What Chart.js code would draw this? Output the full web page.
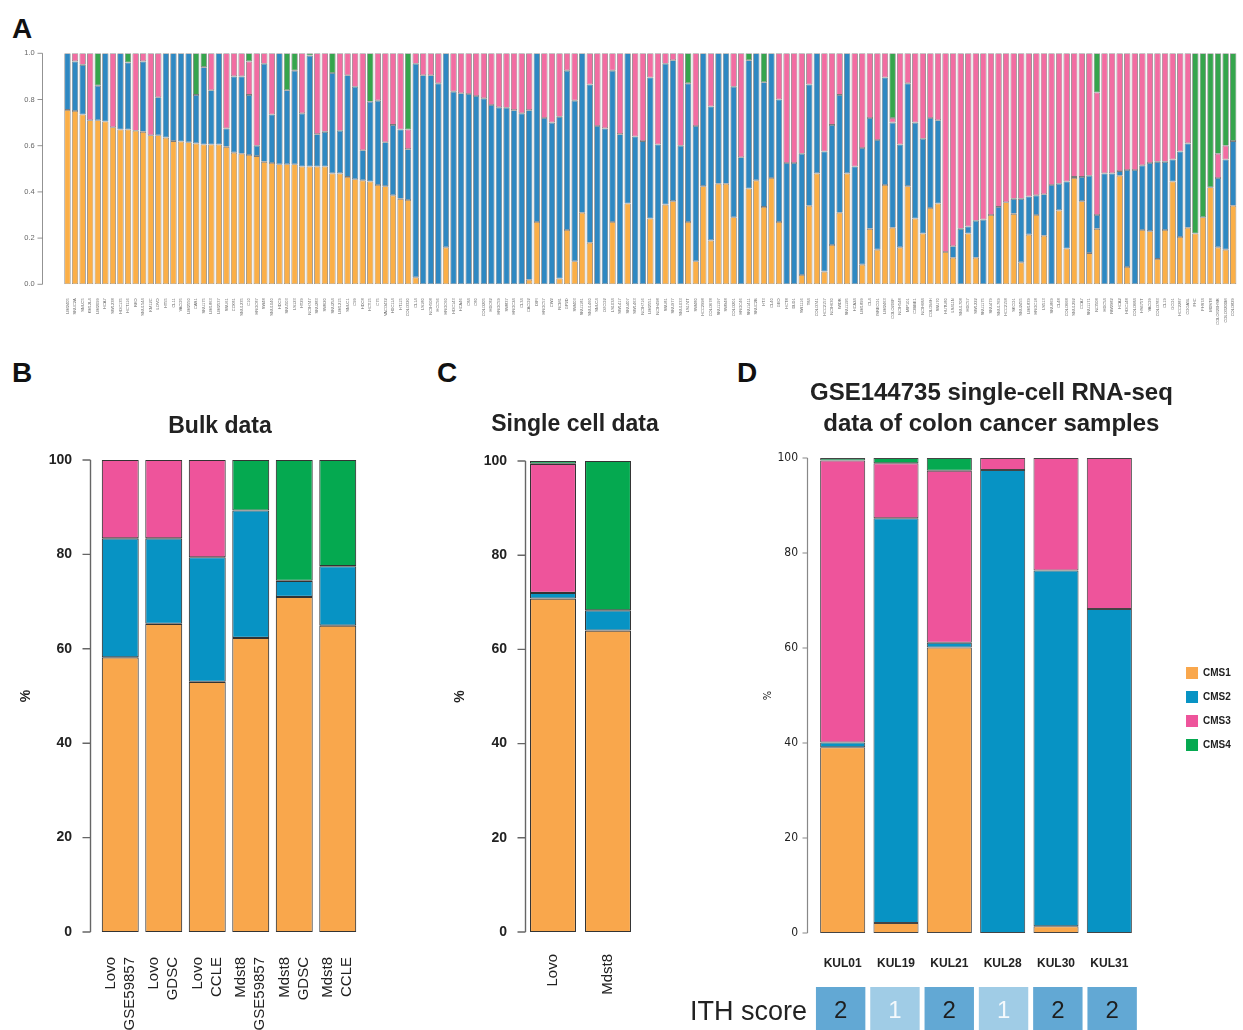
<!DOCTYPE html>
<html>
<head>
<meta charset="utf-8">
<title>CMS classification</title>
<script src="https://cdn.jsdelivr.net/npm/chart.js"></script>
<style>
  html, body { margin: 0; padding: 0; background: #fff; }
  body { width: 1243px; height: 1030px; overflow: hidden; position: relative; font-family: 'Liberation Sans', Arial, sans-serif; }
  .panel { position: absolute; }
  .letter { position: absolute; font-weight: bold; font-size: 28px; line-height: 1; color: #111; }
  .ith { position: absolute; left: 690px; top: 998px; font-size: 27px; line-height: 1; color: #222; }
</style>
</head>
<body>
<div class="letter" style="left:12px; top:15px;">A</div>
<div class="letter" style="left:12px; top:359px;">B</div>
<div class="letter" style="left:437px; top:359px;">C</div>
<div class="letter" style="left:737px; top:359px;">D</div>

<div class="panel" style="left:0; top:40px; width:1252px; height:285px;"><canvas id="chartA"></canvas></div>
<div class="panel" style="left:0; top:355px; width:440px; height:680px;"><canvas id="chartB"></canvas></div>
<div class="panel" style="left:430px; top:355px; width:290px; height:680px;"><canvas id="chartC"></canvas></div>
<div class="panel" style="left:742px; top:355px; width:501px; height:708px;"><canvas id="chartD"></canvas></div>
<div class="panel" style="left:680px; top:985px; width:470px; height:60px;"><canvas id="chartITH"></canvas></div>
<div class="ith">ITH score</div>

<script>
// Panel A: CMS proportions per colorectal cancer cell line
const cellLines = [
  'LIM2405', 'SNUC2A', 'SNUC5', 'KM12L4', 'LIM2099', 'HCA7', 'SW1238', 'HDC135', 'HCT116', 'RKO',
  'SNU1544', 'KM12C', 'LOVO', 'HT55', 'CL11', 'VACO5', 'LIM2550', 'CAR1', 'SNU175', 'LIM1863',
  'LIM2537', 'SNU61', 'CCK81', 'SNU1235', 'C10', 'HROC87', 'SW48', 'SNU1040', 'HDC9', 'SNU503',
  'LS123', 'HT29', 'NCIH747', 'SNU283', 'SW620', 'SNU254', 'LIM1215', 'SNUC1', 'C99', 'HDC8',
  'HCT15', 'C75', 'VACO432', 'HDC114', 'HT115', 'COLO320', 'CL14', 'LS180', 'NCIH508', 'HCC56',
  'HROC60', 'HDC143', 'HCA46', 'C84', 'C80', 'COLO205', 'HDC82', 'HROC59', 'SW837', 'HROC24',
  'CL34', 'CACO2', 'DIFI', 'HROC57', 'CW2', 'RCM1', 'GP2D', 'SW403', 'SNU1181', 'SNU1460',
  'SNUC4', 'OXCO2', 'LS1034', 'SW1417', 'SNU407', 'SW1463', 'NCIH716', 'LIM2551', 'NCIH498', 'SNU81',
  'SNU977', 'SNU1033', 'LS174T', 'SW480', 'HCC2998', 'COLO678', 'SNU1197', 'SW948', 'COLO201', 'HROC46',
  'SNU1411', 'SNUC2B', 'HT3', 'CL40', 'GEO', 'HCT8', 'DLD1', 'SW1116', 'T84', 'COLO741',
  'HCC2157', 'NCIH630', 'WIDR', 'SNU1195', 'HCA24', 'LIM1899', 'CL4', 'ISRECO1', 'LIM2463', 'COLO206F',
  'NCIH548', 'MIP101', 'C2BBE1', 'NCIH684', 'COLO94H', 'SNU70', 'HUTU80', 'LS411N', 'SNU1708', 'HDC57',
  'SW1222', 'SNU1175', 'SNU479', 'SNU1769', 'HCC2158', 'SKCO1', 'SNU2455', 'LIM1839', 'HROC18', 'LS513',
  'SNU869', 'CL48', 'COLO668', 'SNU1292', 'CCA7', 'SNU1171', 'NCI508', 'HDC54', 'RW2982', 'HCA2',
  'HDC148', 'COLO684', 'HS675T', 'VACO9', 'COLO783', 'CL19', 'GCO1', 'HCC2287', 'COGA5L', 'FHC',
  'FHS74', 'MDST8', 'COLO320HSR', 'COLO320DM', 'COLO829'
];

const cms1A = [
  .755, .75, .735, .71, .71, .705, .68, .67, .67, .665,
  .66, .645, .645, .635, .62, .618, .615, .61, .605, .605,
  .605, .595, .57, .565, .56, .555, .53, .525, .52, .52,
  .52, .51, .51, .51, .51, .48, .48, .465, .455, .45,
  .445, .43, .425, .385, .37, .365, .03, 0, 0, 0,
  .16, 0, 0, 0, 0, 0, 0, 0, 0, 0,
  0, .02, .27, 0, 0, .025, .235, .10, .31, .18,
  0, 0, .27, 0, .35, 0, 0, .285, 0, .345,
  .36, 0, .27, .10, .425, .19, .435, .435, .29, 0,
  .415, .45, .335, .46, .27, 0, 0, .04, .34, .48,
  .055, .17, .31, .48, 0, .085, .24, .15, .43, .245,
  .16, .425, .285, .22, .33, .35, .14, .115, 0, .22,
  .115, 0, .30, 0, .355, .305, .095, .215, .30, .21,
  0, .32, .155, .46, .36, .135, .24, 0, 0, .47,
  .075, 0, .235, .23, .11, .235, .445, .205, .245, .22,
  .29, .42, .16, .15, .34
];
const cms2A = [
  .245, .215, .215, 0, .15, .295, 0, .33, .29, 0,
  .305, 0, .165, .365, .38, .382, .385, .21, .335, .235,
  .395, .08, .33, .335, .26, .045, .425, .21, .48, .32,
  .405, .23, .48, .14, .15, .435, .185, .44, .40, .13,
  .345, .365, .19, .305, .30, .22, .925, .905, .905, .87,
  .84, .834, .827, .824, .815, .805, .776, .766, .764, .754,
  .74, .734, .73, .72, .70, .70, .69, .695, .69, .685,
  .685, .675, .655, .65, .65, .64, .62, .61, .605, .61,
  .61, .60, .60, .585, .575, .58, .565, .565, .565, .55,
  .555, .55, .54, .54, .53, .525, .525, .525, .525, .52,
  .52, .52, .51, .52, .51, .505, .48, .475, .465, .455,
  .445, .445, .415, .41, .39, .36, 0, .05, .24, .03,
  .16, .28, 0, .335, 0, .065, .275, .165, .085, .18,
  .43, .115, .29, .005, .105, .335, .06, .48, .48, .02,
  .42, .495, .28, .295, .42, .295, .095, .37, .365, 0,
  0, 0, .30, .39, .28
];
const cms3A = [
  0, .035, .05, .29, 0, 0, .32, 0, 0, .335,
  .035, .355, .19, 0, 0, 0, 0, 0, 0, .16,
  0, .325, .10, .10, .145, .40, .045, .265, 0, 0,
  0, .26, 0, .35, .34, 0, .335, .095, .145, .42,
  0, .205, .385, .31, .33, .085, .045, .095, .095, .13,
  0, .166, .173, .176, .185, .195, .224, .234, .236, .246,
  .26, .246, 0, .28, .30, .275, .075, .205, 0, .135,
  .315, .325, .075, .35, 0, .36, .38, .105, .395, .045,
  .03, .40, 0, .315, 0, .23, 0, 0, .145, .45,
  0, 0, 0, 0, .20, .475, .475, .435, .135, 0,
  .425, .31, .18, 0, .49, .41, .28, .375, .105, .02,
  .395, .13, .30, .37, .28, .29, .86, .835, .76, .75,
  .725, .72, .70, .665, .645, .63, .63, .62, .615, .61,
  .57, .565, .555, .535, .535, .53, .53, .52, .52, .51,
  .505, .505, .485, .475, .47, .47, .46, .425, .39, 0,
  0, 0, .105, .06, 0
];
const cms4A = [
  0, 0, 0, 0, .14, 0, 0, 0, .04, 0,
  0, 0, 0, 0, 0, 0, 0, .18, .06, 0,
  0, 0, 0, 0, .035, 0, 0, 0, 0, .16,
  .075, 0, .01, 0, 0, .085, 0, 0, 0, 0,
  .21, 0, 0, 0, 0, .33, 0, 0, 0, 0,
  0, 0, 0, 0, 0, 0, 0, 0, 0, 0,
  0, 0, 0, 0, 0, 0, 0, 0, 0, 0,
  0, 0, 0, 0, 0, 0, 0, 0, 0, 0,
  0, 0, .13, 0, 0, 0, 0, 0, 0, 0,
  .03, 0, .125, 0, 0, 0, 0, 0, 0, 0,
  0, 0, 0, 0, 0, 0, 0, 0, 0, .28,
  0, 0, 0, 0, 0, 0, 0, 0, 0, 0,
  0, 0, 0, 0, 0, 0, 0, 0, 0, 0,
  0, 0, 0, 0, 0, 0, .17, 0, 0, 0,
  0, 0, 0, 0, 0, 0, 0, 0, 0, .78,
  .71, .58, .435, .40, .38
];
const ticksA = [0, 0.2, 0.4, 0.6, 0.8, 1.0];

// Panel B: bulk expression data (%)
const bulkLabels = [['Lovo', 'GSE59857'], ['Lovo', 'GDSC'], ['Lovo', 'CCLE'], ['Mdst8', 'GSE59857'], ['Mdst8', 'GDSC'], ['Mdst8', 'CCLE']];
const cms1B = [58.2, 65.3, 53.0, 62.3, 71.0, 64.9];
const cms2B = [25.2, 18.1, 26.4, 27.0, 3.4, 12.6];
const cms3B = [16.6, 16.6, 20.6, 0, 0, 0];
const cms4B = [0, 0, 0, 10.7, 25.6, 22.5];

// Panel C: single cell data (%)
const scLabels = ['Lovo', 'Mdst8'];
const cms1C = [70.8, 64.0];
const cms2C = [1.2, 4.3];
const cms3C = [27.4, 0];
const cms4C = [0.6, 31.7];

// Panel D: GSE144735 patients (%)
const patients = ['KUL01', 'KUL19', 'KUL21', 'KUL28', 'KUL30', 'KUL31'];
const cms1D = [39.1, 2.1, 60.1, 0, 1.4, 0];
const cms2D = [1.0, 85.2, 1.0, 97.5, 74.9, 68.2];
const cms3D = [59.4, 11.6, 36.2, 2.5, 23.7, 31.8];
const cms4D = [0.5, 1.1, 2.7, 0, 0, 0];
const ithScores = [2, 1, 2, 1, 2, 2];
const ticksPct = [0, 20, 40, 60, 80, 100];

const cmsNames = ['CMS1', 'CMS2', 'CMS3', 'CMS4'];
const colorsA = ['#FBAF47', '#2E88C2', '#F26DA2', '#35A54C'];
const colorsBCD = ['#F9A74C', '#0793C4', '#EE549B', '#05A950'];

Chart.defaults.font.family = "'Liberation Sans', Arial, sans-serif";
Chart.defaults.color = '#222';
Chart.defaults.animation = false;

const narrow = "'Liberation Sans Narrow', 'DejaVu Sans Condensed', sans-serif";

// R style y axis: a line detached from the bars, ticks pointing left
const rAxisPlugin = {
  id: 'rAxis',
  afterDraw(chart, args, opts) {
    const { ctx, chartArea } = chart;
    const y = chart.scales.y;
    const x0 = Math.round(chartArea.left - opts.gap) + 0.5;
    ctx.save();
    ctx.strokeStyle = opts.color;
    ctx.lineWidth = opts.width;
    ctx.beginPath();
    ctx.moveTo(x0, y.getPixelForValue(y.min));
    ctx.lineTo(x0, y.getPixelForValue(y.max));
    y.ticks.forEach(t => {
      const py = y.getPixelForValue(t.value);
      ctx.moveTo(x0 - opts.tick, py);
      ctx.lineTo(x0, py);
    });
    ctx.stroke();
    ctx.restore();
  }
};

const makeSets = (series, colors, border, bw) => series.map((d, i) => ({
  label: cmsNames[i],
  data: d,
  backgroundColor: colors[i],
  borderColor: border,
  borderWidth: bw,
  borderSkipped: false
}));

const fixedTicks = list => scale => { scale.ticks = list.map(v => ({ value: v })); };
// fixed axis width, and no extra room kept for the end labels
const fixWidth = w => s => { s.width = w; s.paddingTop = 0; s.paddingBottom = 0; };
const noGrid = { display: false, drawTicks: false };
// invisible right-hand axis used only as a spacer
const spacer = w => ({
  position: 'right',
  display: true,
  grid: noGrid,
  border: { display: false },
  ticks: { display: false },
  afterFit: fixWidth(w)
});

// ---- A
new Chart(document.getElementById('chartA'), {
  type: 'bar',
  data: { labels: cellLines, datasets: makeSets([cms1A, cms2A, cms3A, cms4A], colorsA, '#7a7a7a', 0.8) },
  options: {
    responsive: true,
    maintainAspectRatio: false,
    layout: { padding: { top: 13.3, right: 5.3, left: 0, bottom: 0 } },
    datasets: { bar: { barPercentage: 0.84, categoryPercentage: 1 } },
    plugins: {
      legend: { display: false },
      tooltip: { enabled: false },
      rAxis: { gap: 21.7, tick: 5, color: '#777', width: 0.8 }
    },
    scales: {
      x: {
        stacked: true,
        grid: noGrid,
        border: { display: false },
        ticks: { autoSkip: false, maxRotation: 90, minRotation: 90, padding: 14, font: { size: 4 }, color: '#666' },
        afterFit: s => { s.height = 40.7; }
      },
      y: {
        stacked: true,
        min: 0,
        max: 1,
        grid: noGrid,
        border: { display: false },
        afterBuildTicks: fixedTicks(ticksA),
        ticks: { padding: 29, font: { size: 7.5 }, color: '#666', callback: v => v.toFixed(1) },
        afterFit: fixWidth(63.7)
      }
    }
  },
  plugins: [rAxisPlugin]
});

// ---- B
new Chart(document.getElementById('chartB'), {
  type: 'bar',
  data: { labels: bulkLabels, datasets: makeSets([cms1B, cms2B, cms3B, cms4B], colorsBCD, '#333', 1.1) },
  options: {
    responsive: true,
    maintainAspectRatio: false,
    datasets: { bar: { barPercentage: 0.85, categoryPercentage: 1 } },
    plugins: {
      legend: { display: false },
      tooltip: { enabled: false },
      title: { display: true, text: 'Bulk data', color: '#222', font: { size: 23, weight: 'bold' }, padding: { top: 58.2, bottom: 19.2 } },
      rAxis: { gap: 8.5, tick: 8, color: '#666', width: 1.4 }
    },
    scales: {
      x: {
        stacked: true,
        grid: noGrid,
        border: { display: false },
        ticks: { maxRotation: 90, minRotation: 90, padding: 25, labelOffset: -9.6, font: { size: 15, lineHeight: 1.28 }, color: '#222' },
        afterFit: s => { s.height = 103; }
      },
      y: {
        stacked: true,
        min: 0,
        max: 100,
        grid: noGrid,
        border: { display: false },
        afterBuildTicks: fixedTicks(ticksPct),
        ticks: { padding: 26.5, font: { size: 14, weight: 'bold' }, color: '#222' },
        title: { display: true, text: '%', color: '#222', font: { size: 14, weight: 'bold' }, padding: { top: 18 } },
        afterFit: fixWidth(98.5)
      },
      gap: spacer(80.5)
    }
  },
  plugins: [rAxisPlugin]
});

// ---- C
new Chart(document.getElementById('chartC'), {
  type: 'bar',
  data: { labels: scLabels, datasets: makeSets([cms1C, cms2C, cms3C, cms4C], colorsBCD, '#333', 1.1) },
  options: {
    responsive: true,
    maintainAspectRatio: false,
    datasets: { bar: { barPercentage: 0.836, categoryPercentage: 1 } },
    plugins: {
      legend: { display: false },
      tooltip: { enabled: false },
      title: { display: true, text: 'Single cell data', color: '#222', font: { size: 23, weight: 'bold' }, padding: { top: 56.2, bottom: 22.2 } },
      rAxis: { gap: 1, tick: 8, color: '#666', width: 1.4 }
    },
    scales: {
      x: {
        stacked: true,
        grid: noGrid,
        border: { display: false },
        ticks: { maxRotation: 90, minRotation: 90, padding: 22, font: { size: 15 }, color: '#222' },
        afterFit: s => { s.height = 103; }
      },
      y: {
        stacked: true,
        min: 0,
        max: 100,
        grid: noGrid,
        border: { display: false },
        afterBuildTicks: fixedTicks(ticksPct),
        ticks: { padding: 18.5, font: { size: 14, weight: 'bold' }, color: '#222' },
        title: { display: true, text: '%', color: '#222', font: { size: 14, weight: 'bold' }, padding: { top: 21.6 } },
        afterFit: fixWidth(95.5)
      },
      gap: spacer(84.5)
    }
  },
  plugins: [rAxisPlugin]
});

// ---- D
new Chart(document.getElementById('chartD'), {
  type: 'bar',
  data: { labels: patients, datasets: makeSets([cms1D, cms2D, cms3D, cms4D], colorsBCD, '#444', 1) },
  options: {
    responsive: true,
    maintainAspectRatio: false,
    layout: { padding: { right: 2.2 } },
    datasets: { bar: { barPercentage: 0.845, categoryPercentage: 1 } },
    plugins: {
      tooltip: { enabled: false },
      title: {
        display: true,
        text: ['GSE144735 single-cell RNA-seq', 'data of colon cancer samples'],
        color: '#222',
        font: { size: 24, weight: 'bold', lineHeight: 1.3 },
        padding: { top: 22.4, bottom: 18.2 }
      },
      legend: {
        position: 'right',
        align: 'center',
        labels: {
          boxWidth: 12,
          boxHeight: 12,
          padding: 12,
          color: '#222',
          font: { size: 10, weight: 'bold' },
          generateLabels: chart => Chart.defaults.plugins.legend.labels.generateLabels(chart).map(l => ({ ...l, lineWidth: 0 }))
        }
      },
      rAxis: { gap: 9, tick: 5, color: '#888', width: 1.2 }
    },
    scales: {
      x: {
        stacked: true,
        grid: noGrid,
        border: { display: false },
        ticks: { maxRotation: 0, minRotation: 0, padding: 23.8, font: { size: 12, weight: 'bold' }, color: '#222' },
        afterFit: s => { s.height = 130; }
      },
      y: {
        stacked: true,
        min: 0,
        max: 100,
        grid: noGrid,
        border: { display: false },
        afterBuildTicks: fixedTicks(ticksPct),
        ticks: { padding: 18, font: { size: 12, family: narrow }, color: '#222' },
        title: { display: true, text: '%', color: '#222', font: { size: 11, family: narrow }, padding: { top: 19.4 } },
        afterFit: fixWidth(74)
      },
      gap: spacer(38)
    }
  },
  plugins: [rAxisPlugin]
});

// ---- ITH score strip under D
const ithText = {
  id: 'ithText',
  afterDatasetsDraw(chart) {
    const { ctx, chartArea } = chart;
    ctx.save();
    ctx.font = "24px 'Liberation Sans', Arial, sans-serif";
    ctx.textAlign = 'center';
    ctx.textBaseline = 'middle';
    chart.getDatasetMeta(0).data.forEach((bar, i) => {
      ctx.fillStyle = ithScores[i] === 1 ? '#f4f9fc' : '#1e1e1e';
      ctx.fillText(String(ithScores[i]), bar.x, chartArea.top + 24);
    });
    ctx.restore();
  }
};

new Chart(document.getElementById('chartITH'), {
  type: 'bar',
  data: {
    labels: patients,
    datasets: [{
      label: 'ITH score',
      data: ithScores.map(() => 1),
      backgroundColor: ithScores.map(s => s === 2 ? '#62A8D4' : '#A0CCE6'),
      borderWidth: 0
    }]
  },
  options: {
    responsive: true,
    maintainAspectRatio: false,
    layout: { padding: { left: 133.5, right: 10.7, top: 2, bottom: 0 } },
    datasets: { bar: { barPercentage: 0.91, categoryPercentage: 1 } },
    plugins: { legend: { display: false }, tooltip: { enabled: false } },
    scales: {
      x: { display: false },
      y: { display: false, min: 0, max: 1 }
    }
  },
  plugins: [ithText]
});
</script>
</body>
</html>
